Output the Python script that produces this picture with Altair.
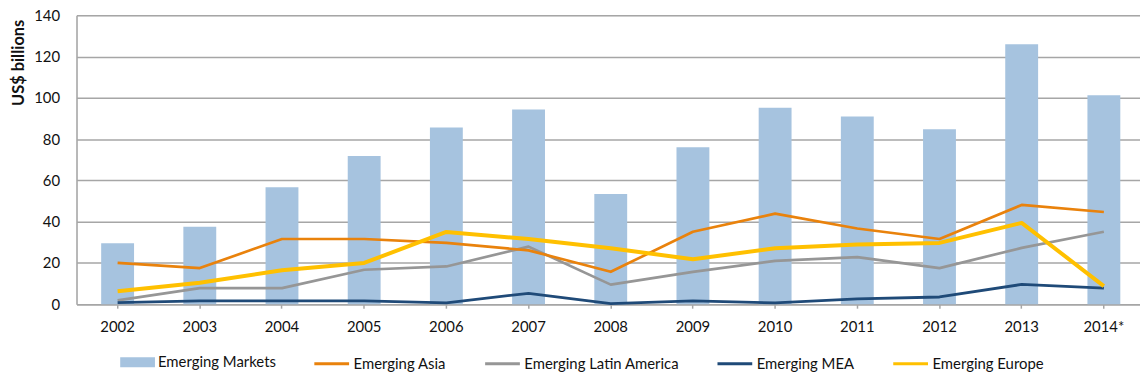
import altair as alt
import pandas as pd

years = ["2002", "2003", "2004", "2005", "2006", "2007", "2008", "2009", "2010", "2011", "2012", "2013", "2014*"]
emerging_markets = [29.5, 37.5, 56.7, 71.8, 85.6, 94.4, 53.4, 76.0, 95.2, 90.9, 84.8, 126.0, 101.3]
emerging_asia = [20.0, 17.5, 31.6, 31.6, 29.7, 26.1, 15.7, 35.1, 43.9, 36.7, 31.6, 48.1, 44.7]
emerging_latam = [1.9, 7.8, 7.8, 16.7, 18.3, 27.9, 9.5, 15.7, 21.0, 22.8, 17.5, 27.3, 35.1]
emerging_mea = [0.8, 1.6, 1.6, 1.6, 0.6, 5.3, 0.3, 1.6, 0.6, 2.6, 3.5, 9.6, 7.8]
emerging_europe = [6.3, 10.4, 16.5, 20.0, 35.0, 31.6, 27.1, 21.8, 27.1, 28.9, 29.7, 39.4, 8.8]

line_names = ["Emerging Asia", "Emerging Latin America", "Emerging MEA", "Emerging Europe"]
line_colors = ["#E9820C", "#969696", "#1F4A78", "#FFC000"]
line_widths = [2.7, 2.7, 2.8, 4.0]
draw_order = ["Emerging Latin America", "Emerging MEA", "Emerging Asia", "Emerging Europe"]

bar_df = pd.DataFrame({"year": years, "value": emerging_markets, "series": "Emerging Markets"})
series_values = [emerging_asia, emerging_latam, emerging_mea, emerging_europe]
line_df = pd.concat(
    [pd.DataFrame({"year": years, "value": v, "series": n}) for n, v in zip(line_names, series_values)],
    ignore_index=True,
)

FONT = "Lato"

x_enc = alt.X(
    "year:N",
    sort=years,
    title=None,
    scale=alt.Scale(range=[0, 1076], paddingInner=0.6, paddingOuter=0.3),
    axis=alt.Axis(
        labelAngle=0,
        labelFont=FONT,
        labelFontSize=15,
        labelColor="#111111",
        labelPadding=11,
        tickSize=4,
        tickColor="#A6A6A6",
        tickWidth=1.5,
        domainColor="#A6A6A6",
        domainWidth=1.5,
        grid=False,
    ),
)

y_enc = alt.Y(
    "value:Q",
    scale=alt.Scale(domain=[0, 140], nice=False),
    axis=alt.Axis(
        values=[0, 20, 40, 60, 80, 100, 120, 140],
        title="US$ billions",
        titleFont=FONT,
        titleFontSize=16.5,
        titleFontWeight="bold",
        titleColor="#111111",
        titleAngle=270,
        titleAlign="right",
        titleBaseline="alphabetic",
        titleX=-53,
        titleY=4,
        labelFont=FONT,
        labelFontSize=15,
        labelColor="#111111",
        labelPadding=17,
        tickSize=0,
        domainColor="#A6A6A6",
        domainWidth=1.5,
        grid=True,
        gridColor="#A6A6A6",
        gridWidth=1.5,
    ),
)

bars = alt.Chart(bar_df).mark_bar().encode(
    x=x_enc,
    y=y_enc,
    fill=alt.Fill(
        "series:N",
        scale=alt.Scale(domain=["Emerging Markets"], range=["#A6C3DF"]),
        legend=alt.Legend(
            title=None,
            orient="none",
            legendX=44,
            legendY=332,
            symbolType="M-1,-0.2857H1V0.2857H-1Z",
            symbolSize=1225,
            symbolStrokeWidth=0,
            labelFont=FONT,
            labelFontSize=15,
            labelColor="#111111",
            labelOffset=3,
        ),
    ),
)

stroke_scale = alt.Scale(domain=line_names, range=line_colors)
stroke_legend = alt.Legend(
    title=None,
    orient="none",
    direction="horizontal",
    legendX=238,
    legendY=332,
    symbolType="stroke",
    symbolSize=1225,
    symbolStrokeWidth=3,
    labelFont=FONT,
    labelFontSize=15,
    labelColor="#111111",
    labelOffset=3,
    columnPadding=32,
)

line_layers = []
for name in draw_order:
    w = line_widths[line_names.index(name)]
    line_layers.append(
        alt.Chart(line_df)
        .transform_filter(alt.datum.series == name)
        .mark_line(strokeWidth=w, strokeJoin="round")
        .encode(
            x=x_enc,
            y=alt.Y("value:Q", scale=alt.Scale(domain=[0, 140], nice=False)),
            stroke=alt.Stroke("series:N", scale=stroke_scale, legend=stroke_legend),
        )
    )

chart = (
    alt.layer(bars, *line_layers)
    .properties(
        width=1071,
        height=291,
        autosize=alt.AutoSizeParams(type="none"),
        padding={"left": 69, "top": 6, "right": 0, "bottom": 75},
    )
    .configure_view(stroke=None)
    .configure(background="white")
)

chart.save("out.html", embed_options={"renderer": "svg", "actions": False})
